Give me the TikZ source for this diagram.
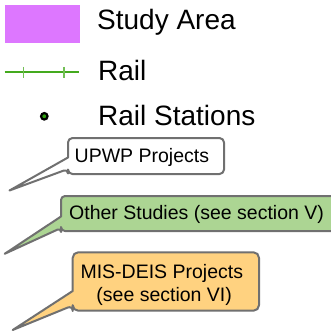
\documentclass[tikz,border=0pt]{standalone}
\usepackage{fontspec}
\setmainfont{Liberation Sans}
\definecolor{studyfill}{HTML}{DD77FF}
\definecolor{railgreen}{HTML}{44AA1E}
\definecolor{stationgreen}{HTML}{2FA010}
\definecolor{calloutline}{HTML}{707070}
\definecolor{otherfill}{HTML}{ACD593}
\definecolor{misfill}{HTML}{FFD280}
\tikzset{
  legendtext/.style={anchor=base west, inner sep=0pt, font=\fontsize{28}{32}\selectfont},
  callouttext/.style={inner sep=0pt, font=\fontsize{19.5}{23}\selectfont},
  calloutbox/.style={draw=calloutline, line width=2pt, line join=round},
  railline/.style={draw=railgreen, line width=1.6pt},
  railtick/.style={draw=railgreen!75, line width=1.1pt},
}
\begin{document}
\begin{tikzpicture}[x=1pt, y=-1pt]
\clip (0,0) rectangle (331,333);
\fill[white] (0,0) rectangle (331,333);

% legend: study area swatch
\fill[studyfill] (5,5) rectangle (80,43);
\node[legendtext] (studytxt) at (97,29.3) {Study Area};

% legend: rail line with ties
\coordinate (railL) at (4.7,71.7);
\coordinate (railR) at (79.3,71.7);
\draw[railline] (railL) -- (railR);
\draw[railtick] (23.7,66.8) -- (23.7,77.5);
\draw[railtick] (64,66.8) -- (64,77.5);
\node[legendtext] (railtxt) at (98,80.7) {Rail};

% legend: rail station marker
\node[circle, draw=black, fill=stationgreen, line width=2.2pt, inner sep=0pt,
      minimum size=6.5pt] (station) at (44.3,116.3) {};
\node[legendtext] (stationtxt) at (98,125.5) {Rail Stations};

% callout: UPWP projects
\draw[calloutbox, fill=white] (68,157.5) [rounded corners=4.5pt] -- (68,138) -- (224,138)
  -- (224,174) -- (68,174) -- (68,169) [sharp corners] -- (9.5,190.5) -- cycle;
\node[callouttext, anchor=base west] (upwp) at (74.5,162.3) {UPWP Projects};

% callout: other studies (runs past the right edge)
\draw[calloutbox, fill=otherfill] (61,216.5) [rounded corners=4pt] -- (61,196) -- (345,196)
  -- (345,231) -- (61,231) -- (61,228) [sharp corners] -- (4.7,253.8) -- cycle;
\node[callouttext, anchor=base west] (other) at (69,219.6) {Other Studies (see section V)};

% callout: MIS-DEIS projects
\draw[calloutbox, fill=misfill] (72.7,291) [rounded corners=5.5pt] -- (72.7,252.3) -- (259,252.3)
  -- (259,310.7) -- (72.7,310.7) -- (72.7,305.5) [sharp corners] -- (12.7,330) -- cycle;
\node[callouttext, anchor=base] (mis1) at (161.8,278.3) {MIS-DEIS Projects};
\node[callouttext, anchor=base] (mis2) at (164.2,301) {(see section VI)};
\end{tikzpicture}
\end{document}
